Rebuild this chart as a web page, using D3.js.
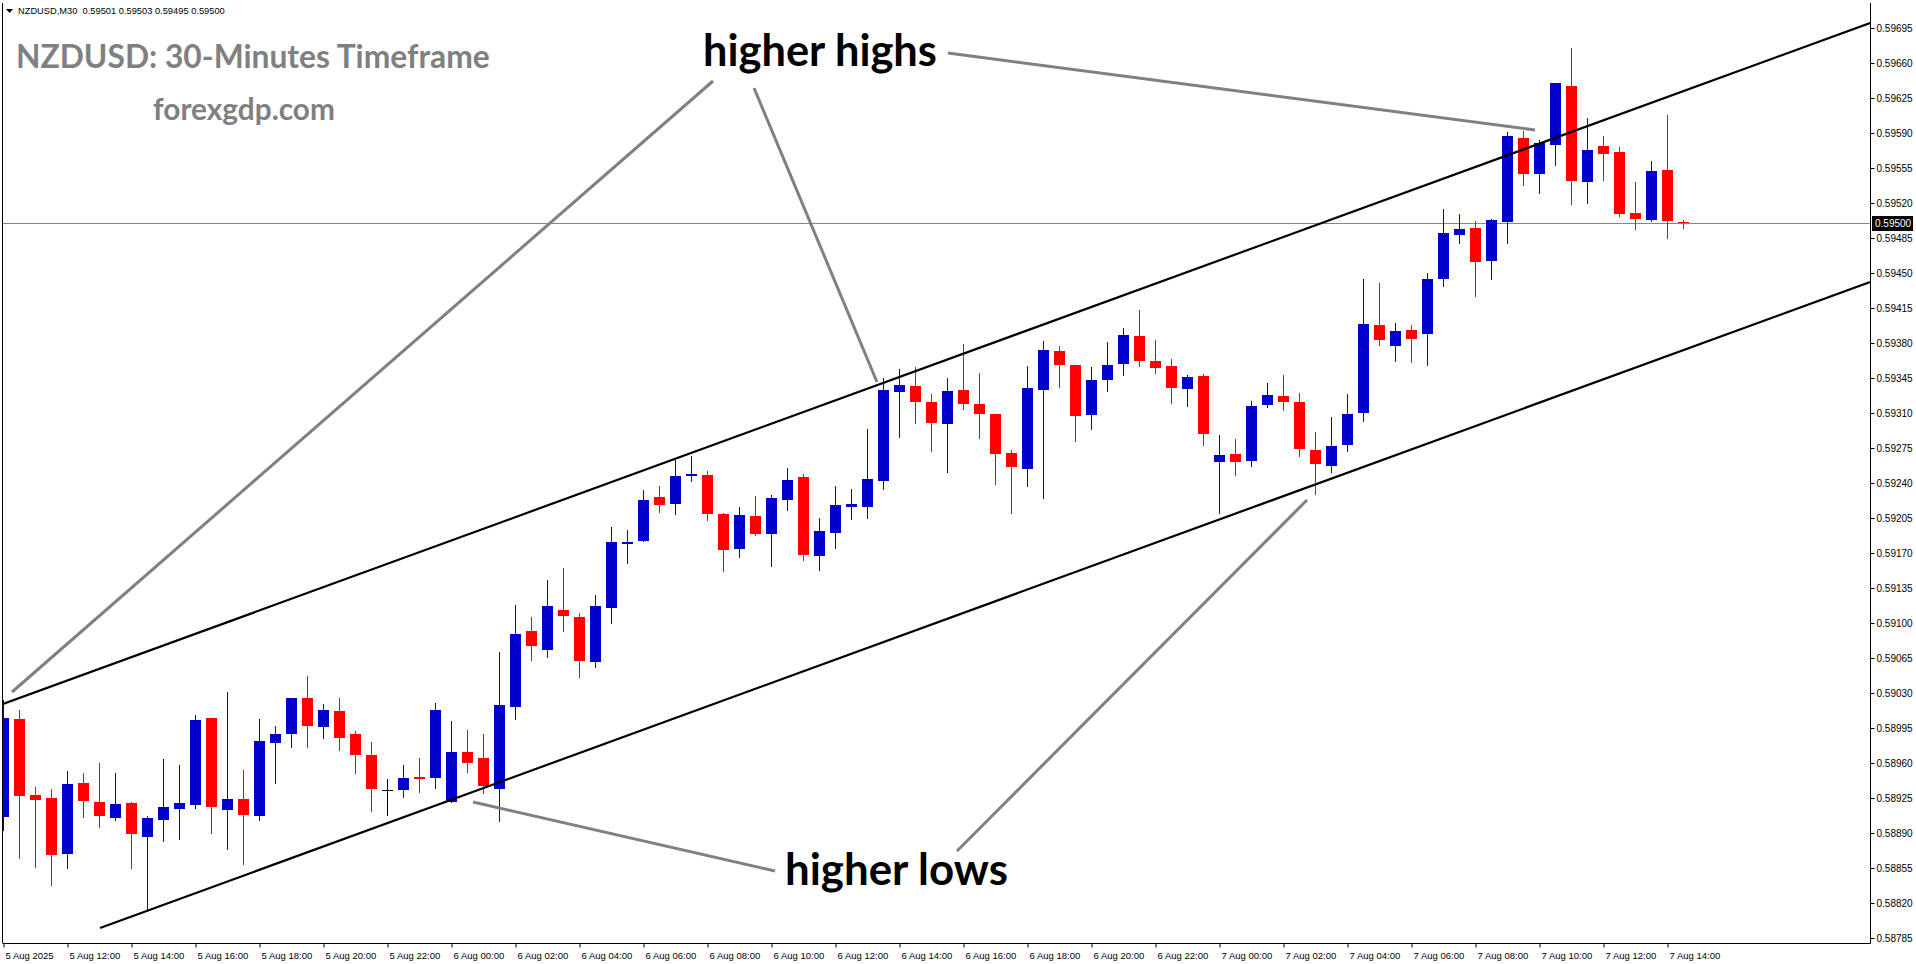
<!DOCTYPE html>
<html><head><meta charset="utf-8">
<script src="https://cdn.jsdelivr.net/npm/d3@7/dist/d3.min.js"></script>
<style>
html,body{margin:0;padding:0;background:#fff;overflow:hidden}
svg{display:block}
</style></head><body>
<svg id="chart" width="1916" height="964"></svg>
<script>
// ---------- DATA ----------
const headerText = "NZDUSD,M30  0.59501 0.59503 0.59495 0.59500";
const titleText = "NZDUSD: 30-Minutes Timeframe";
const siteText = "forexgdp.com";

// 30-minute bars, 5 Aug 2025 10:00 ... 7 Aug 2025 14:30
const openP = [0.58906,0.59004,0.58928,0.58925,0.58869,0.58940,0.58921,0.58905,0.58920,0.58886,
0.58903,0.58914,0.58918,0.59005,0.58913,0.58924,0.58907,0.58980,0.58989,0.59025,
0.58996,0.59012,0.58989,0.58968,0.58933,0.58933,0.58946,0.58945,0.58921,0.58971,
0.58965,0.58934,0.59016,0.59092,0.59073,0.59113,0.59106,0.59061,0.59115,0.59179,
0.59182,0.59226,0.59219,0.59247,0.59248,0.59209,0.59174,0.59207,0.59189,0.59223,
0.59246,0.59167,0.59190,0.59216,0.59216,0.59242,0.59331,0.59337,0.59321,0.59299,
0.59333,0.59319,0.59309,0.59270,0.59254,0.59333,0.59372,0.59358,0.59308,0.59343,
0.59359,0.59387,0.59362,0.59357,0.59334,0.59347,0.59261,0.59269,0.59262,0.59318,
0.59327,0.59321,0.59273,0.59257,0.59278,0.59310,0.59398,0.59377,0.59393,0.59389,
0.59444,0.59488,0.59495,0.59462,0.59501,0.59585,0.59549,0.59578,0.59637,0.59541,
0.59577,0.59571,0.59510,0.59503,0.59553,0.59501];
const highP = [0.59023,0.59013,0.58936,0.58934,0.58952,0.58950,0.58960,0.58950,0.58921,0.58907,
0.58964,0.58958,0.59008,0.59005,0.59031,0.58953,0.59004,0.58997,0.59025,0.59047,
0.59019,0.59025,0.58992,0.58981,0.58944,0.58958,0.58965,0.59020,0.59002,0.58993,
0.58989,0.59071,0.59118,0.59106,0.59143,0.59155,0.59110,0.59128,0.59196,0.59193,
0.59233,0.59237,0.59263,0.59267,0.59252,0.59210,0.59216,0.59227,0.59228,0.59255,
0.59249,0.59205,0.59237,0.59234,0.59294,0.59345,0.59354,0.59356,0.59329,0.59345,
0.59379,0.59350,0.59309,0.59273,0.59357,0.59382,0.59377,0.59358,0.59356,0.59381,
0.59395,0.59413,0.59383,0.59364,0.59348,0.59349,0.59288,0.59284,0.59322,0.59340,
0.59348,0.59330,0.59291,0.59306,0.59329,0.59444,0.59440,0.59400,0.59398,0.59450,
0.59514,0.59509,0.59502,0.59504,0.59591,0.59592,0.59583,0.59640,0.59675,0.59605,
0.59587,0.59576,0.59541,0.59562,0.59608,0.59503];
const lowP = [0.58893,0.58865,0.58856,0.58838,0.58855,0.58906,0.58896,0.58903,0.58855,0.58812,
0.58882,0.58884,0.58915,0.58890,0.58874,0.58859,0.58903,0.58940,0.58976,0.58976,
0.58985,0.58973,0.58950,0.58912,0.58908,0.58926,0.58931,0.58935,0.58921,0.58951,
0.58930,0.58902,0.59004,0.59063,0.59066,0.59092,0.59046,0.59056,0.59100,0.59160,
0.59182,0.59211,0.59209,0.59242,0.59203,0.59152,0.59166,0.59188,0.59157,0.59213,
0.59163,0.59153,0.59175,0.59204,0.59205,0.59234,0.59286,0.59300,0.59272,0.59251,
0.59314,0.59285,0.59239,0.59210,0.59237,0.59225,0.59336,0.59282,0.59294,0.59332,
0.59348,0.59357,0.59350,0.59320,0.59317,0.59278,0.59210,0.59248,0.59257,0.59316,
0.59313,0.59267,0.59229,0.59251,0.59272,0.59302,0.59378,0.59362,0.59361,0.59358,
0.59437,0.59480,0.59427,0.59444,0.59480,0.59538,0.59530,0.59558,0.59519,0.59520,
0.59543,0.59507,0.59494,0.59502,0.59485,0.59495];
const closeP = [0.59005,0.58927,0.58923,0.58868,0.58939,0.58922,0.58907,0.58919,0.58889,0.58905,
0.58916,0.58920,0.59003,0.58916,0.58924,0.58908,0.58982,0.58989,0.59025,0.58997,
0.59013,0.58985,0.58968,0.58934,0.58933,0.58945,0.58944,0.59013,0.58971,0.58960,
0.58937,0.59018,0.59089,0.59077,0.59117,0.59107,0.59062,0.59117,0.59181,0.59181,
0.59223,0.59218,0.59247,0.59249,0.59209,0.59173,0.59208,0.59189,0.59225,0.59243,
0.59168,0.59192,0.59218,0.59219,0.59244,0.59333,0.59338,0.59321,0.59300,0.59332,
0.59319,0.59309,0.59269,0.59256,0.59335,0.59373,0.59358,0.59307,0.59343,0.59358,
0.59388,0.59362,0.59355,0.59335,0.59346,0.59289,0.59268,0.59261,0.59317,0.59328,
0.59321,0.59274,0.59259,0.59277,0.59309,0.59399,0.59383,0.59392,0.59384,0.59444,
0.59490,0.59494,0.59461,0.59503,0.59587,0.59549,0.59580,0.59640,0.59542,0.59573,
0.59569,0.59509,0.59504,0.59552,0.59502,0.59500];

const xTickBars = [0,4,8,12,16,20,24,28,32,36,40,44,48,52,56,60,64,68,72,76,80,84,88,92,96,100,104];
const xTickLabels = ["5 Aug 2025","5 Aug 12:00","5 Aug 14:00","5 Aug 16:00","5 Aug 18:00","5 Aug 20:00","5 Aug 22:00",
"6 Aug 00:00","6 Aug 02:00","6 Aug 04:00","6 Aug 06:00","6 Aug 08:00","6 Aug 10:00","6 Aug 12:00","6 Aug 14:00",
"6 Aug 16:00","6 Aug 18:00","6 Aug 20:00","6 Aug 22:00","7 Aug 00:00","7 Aug 02:00","7 Aug 04:00","7 Aug 06:00",
"7 Aug 08:00","7 Aug 10:00","7 Aug 12:00","7 Aug 14:00"];
const yTickValues = [0.58785,0.58820,0.58855,0.58890,0.58925,0.58960,0.58995,0.59030,0.59065,0.59100,0.59135,
0.59170,0.59205,0.59240,0.59275,0.59310,0.59345,0.59380,0.59415,0.59450,0.59485,0.59520,0.59555,0.59590,
0.59625,0.59660,0.59695];
const currentPrice = 0.59500;

// channel lines (bar index, price)
const channelUpper = [[0, 0.59019],[116.6875, 0.59700]];
const channelLower = [[6.0625, 0.58795],[116.6875, 0.59441]];
// grey pointer lines (bar index, price)
const pointerLines = [
  [[0.5625, 0.59031],[44.375, 0.59642]],
  [[46.94, 0.59635],[54.625, 0.59341]],
  [[59.06, 0.59670],[95.75, 0.59593]],
  [[29.375, 0.58921],[48.25, 0.58852]],
  [[59.625, 0.58872],[81.5, 0.59223]]
];
const annotations = ["higher highs","higher lows"];

// ---------- CHART ----------
const svg = d3.select("#chart");
const L = 3, R = 1870, T = 3, B = 943;
const x = d3.scaleLinear().domain([0, 116.6875]).range([L, R]);
const y = d3.scaleLinear().domain([0.5878, 0.5972]).range([B, T]);

svg.append("defs").append("clipPath").attr("id","plot")
  .append("rect").attr("x",L).attr("y",0).attr("width",R-L).attr("height",B);

const plot = svg.append("g").attr("clip-path","url(#plot)");

// current price line
plot.append("line")
  .attr("x1",L).attr("x2",R)
  .attr("y1",Math.round(y(currentPrice))+0.5).attr("y2",Math.round(y(currentPrice))+0.5)
  .attr("stroke","#778899").attr("stroke-width",1);

// candles
const bars = d3.range(openP.length).map(i => ({i, o:openP[i], h:highP[i], l:lowP[i], c:closeP[i]}));
const colorOf = d => d.c > d.o ? "#0000cc" : (d.c < d.o ? "#ff0000" : "#000000");
const cg = plot.append("g").attr("shape-rendering","crispEdges");
cg.selectAll("line.wick").data(bars).join("line").attr("class","wick")
  .attr("x1", d => Math.round(x(d.i))+0.5).attr("x2", d => Math.round(x(d.i))+0.5)
  .attr("y1", d => Math.round(y(d.h))).attr("y2", d => Math.round(y(d.l))+1)
  .attr("stroke", colorOf).attr("stroke-width",1);
cg.selectAll("rect.body").data(bars.filter(d => d.c !== d.o)).join("rect").attr("class","body")
  .attr("x", d => Math.round(x(d.i)) - 5)
  .attr("width", 11)
  .attr("y", d => Math.round(y(Math.max(d.o,d.c))))
  .attr("height", d => Math.max(1, Math.round(y(Math.min(d.o,d.c))) - Math.round(y(Math.max(d.o,d.c)))))
  .attr("fill", colorOf);
cg.selectAll("line.doji").data(bars.filter(d => d.c === d.o)).join("line").attr("class","doji")
  .attr("x1", d => Math.round(x(d.i)) - 5).attr("x2", d => Math.round(x(d.i)) + 6)
  .attr("y1", d => Math.round(y(d.o))+0.5).attr("y2", d => Math.round(y(d.o))+0.5)
  .attr("stroke","#000").attr("stroke-width",1);

// channel lines
const lineGen = d3.line().x(d => x(d[0])).y(d => y(d[1]));
[channelUpper, channelLower].forEach(pts => {
  plot.append("path").attr("d", lineGen(pts)).attr("fill","none")
    .attr("stroke","#000").attr("stroke-width",2.2);
});
// pointer lines
pointerLines.forEach(pts => {
  plot.append("path").attr("d", lineGen(pts)).attr("fill","none")
    .attr("stroke","#808080").attr("stroke-width",3);
});

// frame
svg.append("line").attr("x1",2.5).attr("x2",2.5).attr("y1",T).attr("y2",B+0.5)
  .attr("stroke","#000").attr("stroke-width",1);

// axes
const xAxis = d3.axisBottom(x).tickValues(xTickBars)
  .tickFormat((d,i) => xTickLabels[i]).tickSize(4).tickSizeOuter(0);
const gx = svg.append("g").attr("transform",`translate(0,${B+0.5})`).call(xAxis);
gx.select(".domain").attr("d",`M${L},0H${R+0.5}`).attr("stroke","#000");
gx.selectAll(".tick line").attr("stroke","#000").attr("transform","translate(0.5,0)");
gx.selectAll(".tick text").attr("text-anchor","start").attr("dx",2).attr("y",9)
  .attr("font-family","'Liberation Sans', Arial, sans-serif").attr("font-size",9.5).attr("fill","#000");

const yAxis = d3.axisRight(y).tickValues(yTickValues).tickFormat(d3.format(".5f")).tickSize(4).tickSizeOuter(0);
const gy = svg.append("g").attr("transform",`translate(${R+0.5},0)`).call(yAxis);
gy.select(".domain").attr("d",`M0,${T}V${B+0.5}`).attr("stroke","#000");
gy.selectAll(".tick text").attr("x",6)
  .attr("font-family","'Liberation Sans', Arial, sans-serif").attr("font-size",10).attr("fill","#000");
gy.selectAll(".tick line").attr("stroke","#000");

// current price tag
const tagY = Math.round(y(currentPrice));
svg.append("rect").attr("x",R+2).attr("y",tagY-7).attr("width",41).attr("height",15).attr("fill","#000");
svg.append("text").attr("x",R+5).attr("y",tagY+4).text(d3.format(".5f")(currentPrice))
  .attr("font-family","'Liberation Sans', Arial, sans-serif").attr("font-size",10).attr("fill","#fff");

// header
svg.append("path").attr("d","M6,9 L13,9 L9.5,13 Z").attr("fill","#000");
const hdr = svg.append("text").attr("x",18).attr("y",14).text(headerText)
  .attr("font-family","'Liberation Sans', Arial, sans-serif").attr("font-size",10).attr("fill","#000")
  .attr("xml:space","preserve").style("white-space","pre");

function fit(sel, w) {
  const cur = sel.node().getComputedTextLength();
  const fs = parseFloat(sel.attr("font-size"));
  sel.attr("font-size", fs * w / cur);
}
fit(hdr, 207);

const t1 = svg.append("text").attr("x",16).attr("y",68).text(titleText)
  .attr("font-family","Lato, 'Open Sans', sans-serif").attr("font-weight","bold").attr("font-size",29).attr("fill","#808080");
fit(t1, 474);
const t2 = svg.append("text").attr("x",153).attr("y",120).text(siteText)
  .attr("font-family","Lato, 'Open Sans', sans-serif").attr("font-weight","bold").attr("font-size",25).attr("fill","#808080");
fit(t2, 182);

const a1 = svg.append("text").attr("x",703).attr("y",66).text(annotations[0])
  .attr("font-family","Lato, 'Open Sans', sans-serif").attr("font-weight","bold").attr("font-size",42).attr("fill","#000");
fit(a1, 234);
const a2 = svg.append("text").attr("x",785).attr("y",885).text(annotations[1])
  .attr("font-family","Lato, 'Open Sans', sans-serif").attr("font-weight","bold").attr("font-size",42).attr("fill","#000");
fit(a2, 223);
</script>
</body></html>
